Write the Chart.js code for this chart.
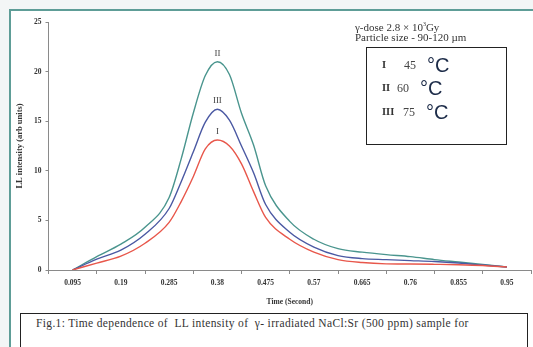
<!DOCTYPE html>
<html>
<head>
<meta charset="utf-8">
<script src="https://cdn.jsdelivr.net/npm/chart.js@4.4.0/dist/chart.umd.min.js"></script>
<style>
  html, body { margin: 0; padding: 0; background: #f3f6f6; }
  #page { position: relative; width: 533px; height: 347px; overflow: hidden; background: #f3f6f6; }
  #frame { position: absolute; left: 9px; top: 9px; width: 540px; height: 360px; border: 2px solid #5e9d97; background: #fff; box-sizing: border-box; }
  #wrap { position: absolute; left: 0; top: 0; width: 533px; height: 347px; }
  .serif { font-family: "Liberation Serif", "DejaVu Serif", serif; }
  #note { position: absolute; left: 355px; top: 19px; font-size: 11px; line-height: 10.5px; color: #333; }
  #note sup { font-size: 6px; }
  #legend { position: absolute; left: 366px; top: 47px; width: 141px; height: 98px; border: 1.5px solid #222; box-sizing: border-box; background: #fff; }
  .row { position: absolute; height: 22px; line-height: 22px; white-space: nowrap; }
  .rn, .num, .deg { position: absolute; top: 0; }
  .rn { font-size: 10.5px; font-weight: bold; color: #333; }
  .num { font-size: 12px; color: #444; }
  .deg { font-family: "Liberation Sans", Arial, sans-serif; font-size: 20px; color: #1c2b48; }
  #caption { position: absolute; left: 20px; top: 313px; width: 508px; height: 60px; border: 1px solid #222; box-sizing: border-box; background: #fff; }
  #caption span { position: absolute; left: 15px; top: 3px; font-size: 11.5px; letter-spacing: 0.35px; color: #333; white-space: nowrap; }
</style>
</head>
<body>
<div id="page">
  <div id="frame"></div>
  <div id="wrap"><canvas id="ll" width="533" height="347"></canvas></div>
  <div id="note" class="serif">γ-dose 2.8 × 10<sup>3</sup>Gy<br>Particle size - 90-120 µm</div>
  <div id="legend" class="serif">
    <div class="row" style="top:6px"><span class="rn" style="left:15px">I</span><span class="num" style="left:37px">45</span><span class="deg" style="left:60px">°C</span></div>
    <div class="row" style="top:29px"><span class="rn" style="left:15px">II</span><span class="num" style="left:30px">60</span><span class="deg" style="left:53px">°C</span></div>
    <div class="row" style="top:53px"><span class="rn" style="left:15px">III</span><span class="num" style="left:36px">75</span><span class="deg" style="left:59px">°C</span></div>
  </div>
  <div id="caption" class="serif"><span>Fig.1: Time dependence of&nbsp; LL intensity of &nbsp;γ- irradiated NaCl:Sr (500 ppm) sample for</span></div>
</div>
<script>
// time in seconds
var time = [0.095, 0.1425, 0.19, 0.2375, 0.285, 0.30875, 0.3325, 0.35625, 0.38, 0.40375, 0.4275, 0.45125, 0.475, 0.5225, 0.57, 0.6175, 0.665, 0.7125, 0.76, 0.8075, 0.855, 0.9025, 0.95];
// LL intensity (arb units)
var curveI   = [0, 0.7, 1.4, 2.7, 4.8, 6.9, 9.4, 12.2, 13.1, 12.5, 10.7, 7.9, 5.3, 3.1, 1.8, 1.05, 0.75, 0.62, 0.6, 0.57, 0.53, 0.45, 0.3];
var curveII  = [0, 1.35, 2.6, 4.3, 7.3, 11.2, 15.8, 19.6, 21.0, 19.7, 15.8, 12.6, 8.5, 4.9, 3.1, 2.15, 1.8, 1.55, 1.35, 1.05, 0.8, 0.55, 0.3];
var curveIII = [0, 1.1, 2.0, 3.6, 6.2, 8.9, 11.9, 14.9, 16.2, 15.1, 12.5, 9.8, 6.6, 3.8, 2.3, 1.45, 1.15, 1.05, 0.95, 0.85, 0.7, 0.5, 0.3];

var xTicks = [0.095, 0.19, 0.285, 0.38, 0.475, 0.57, 0.665, 0.76, 0.855, 0.95];
var xTickLabels = ['0.095', '0.19', '0.285', '0.38', '0.475', '0.57', '0.665', '0.76', '0.855', '0.95'];
var yTicks = [0, 5, 10, 15, 20, 25];

function pts(arr) {
  return time.map(function (t, i) { return { x: t, y: arr[i] }; });
}

var serif = '"Liberation Serif", "DejaVu Serif", serif';

// roman numeral above each peak
var peakLabels = {
  id: 'peakLabels',
  afterDatasetsDraw: function (chart) {
    var ctx = chart.ctx;
    ctx.save();
    ctx.font = '9px ' + serif;
    ctx.fillStyle = '#444';
    ctx.textAlign = 'center';
    ctx.textBaseline = 'bottom';
    chart.data.datasets.forEach(function (ds, di) {
      var vals = ds.data.map(function (p) { return p.y; });
      var k = vals.indexOf(Math.max.apply(null, vals));
      var el = chart.getDatasetMeta(di).data[k];
      ctx.fillText(ds.label, el.x, el.y - 4);
    });
    ctx.restore();
  }
};

var ctx = document.getElementById('ll').getContext('2d');
new Chart(ctx, {
  type: 'line',
  data: {
    datasets: [
      { label: 'I', data: pts(curveI), borderColor: '#e8574b', borderWidth: 1.4 },
      { label: 'III', data: pts(curveIII), borderColor: '#4b59a3', borderWidth: 1.4 },
      { label: 'II', data: pts(curveII), borderColor: '#4a958e', borderWidth: 1.4 }
    ]
  },
  options: {
    responsive: false,
    devicePixelRatio: 1,
    animation: false,
    elements: { point: { radius: 0 }, line: { cubicInterpolationMode: 'monotone', fill: false } },
    layout: { padding: { left: 15, right: 2, top: 22, bottom: 40 } },
    plugins: { legend: { display: false }, tooltip: { enabled: false } },
    scales: {
      x: {
        type: 'linear',
        min: 0.0475,
        max: 0.9975,
        afterBuildTicks: function (s) { s.ticks = xTicks.map(function (v) { return { value: v }; }); },
        afterFit: function (s) { s.height = 37; },
        border: { color: '#8a8a8a', width: 1 },
        grid: { offset: true, drawOnChartArea: false, tickLength: 4, color: '#8a8a8a' },
        ticks: {
          autoSkip: false, maxRotation: 0, padding: 5,
          font: { family: serif, size: 7.5, weight: 'bold' }, color: '#333',
          callback: function (v) { var i = xTicks.indexOf(v); return i < 0 ? '' : xTickLabels[i]; }
        },
        title: { display: true, text: 'Time (Second)', font: { family: serif, size: 7.5, weight: 'bold' }, color: '#333', padding: 0 }
      },
      y: {
        min: 0,
        max: 25,
        afterBuildTicks: function (s) { s.ticks = yTicks.map(function (v) { return { value: v }; }); },
        afterFit: function (s) { s.width = 33.5; },
        border: { color: '#8a8a8a', width: 1 },
        grid: { drawOnChartArea: false, tickLength: 3, color: '#8a8a8a' },
        ticks: { padding: 4, font: { family: serif, size: 7.5, weight: 'bold' }, color: '#333' },
        title: { display: true, text: 'LL intensity (arb units)', font: { family: serif, size: 8.5, weight: 'bold' }, color: '#333', padding: 0 }
      }
    }
  },
  plugins: [peakLabels]
});
</script>
</body>
</html>
